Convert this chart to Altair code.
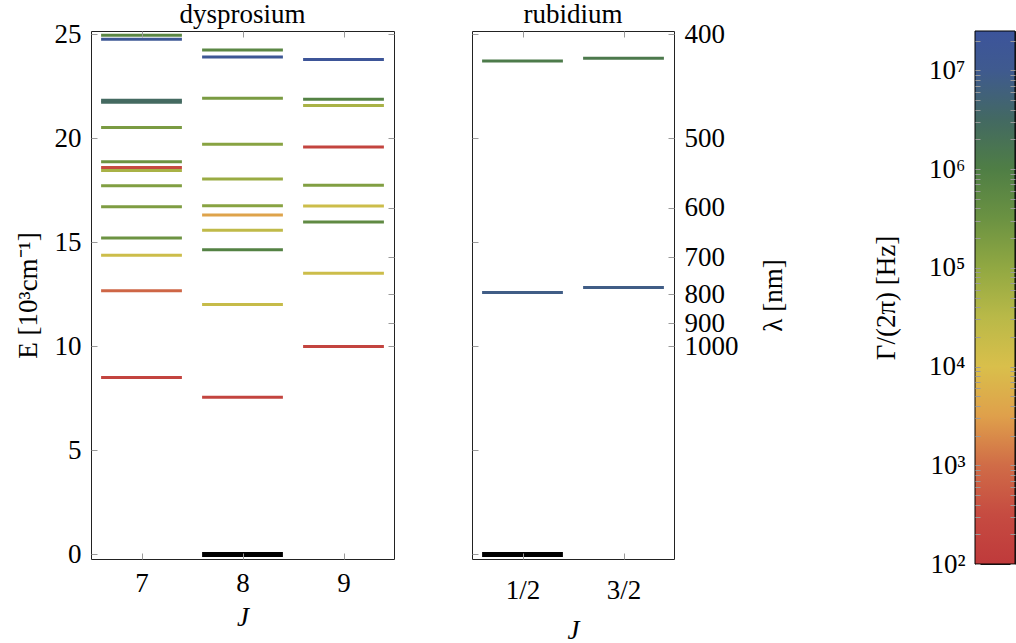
import math
import altair as alt
import pandas as pd

FONT = "Liberation Serif"
FS = 27

# ---------------- data ----------------
# dysprosium levels: J, energy [10^3 cm^-1], Gamma/(2pi) [Hz]
dy_J = [7, 7, 7, 7, 7, 7, 7, 7, 7, 7, 7, 7, 7, 7,
        8, 8, 8, 8, 8, 8, 8, 8, 8, 8, 8,
        9, 9, 9, 9, 9, 9, 9, 9, 9]
dy_E = [24.95, 24.76, 21.73, 21.83, 20.52, 18.87, 18.60, 18.46, 17.72, 16.71, 15.21, 14.38, 12.67, 8.51,
        24.25, 23.91, 21.93, 19.72, 18.04, 16.76, 16.31, 15.58, 14.64, 12.01, 7.55,
        23.79, 21.88, 21.58, 19.59, 17.75, 16.75, 15.98, 13.52, 10.00]
dy_G = [6e5, 1.6e7, 3e6, 3e6, 2e5, 3e5, 3e2, 5e4, 1.6e5, 1.8e5, 3e5, 1.6e4, 8e2, 2e2,
        6e5, 1.6e7, 2e5, 1.3e5, 8e4, 1.3e5, 3.5e3, 2.5e4, 8e5, 2e4, 2e2,
        2e7, 8e5, 5e4, 2e2, 1.6e5, 1.6e4, 5e5, 1.6e4, 2e2]

# rubidium levels
rb_J = [0.5, 1.5, 0.5, 1.5]
rb_E = [23.72, 23.85, 12.59, 12.83]
rb_G = [1.2e6, 1.3e6, 8e6, 8e6]

# ground states
dy_ground_J = [8]
dy_ground_E = [0.0]
rb_ground_J = [0.5]
rb_ground_E = [0.0]

# ticks
E_ticks = [0, 5, 10, 15, 20, 25]
dy_J_ticks = [7, 8, 9]
rb_J_ticks = [0.5, 1.5]
rb_J_labels = ["1/2", "3/2"]
lam_nm = [400, 500, 600, 700, 800, 900, 1000]
gamma_decades = [1e2, 1e3, 1e4, 1e5, 1e6, 1e7]
gamma_labels = ["10²", "10³", "10⁴", "10⁵", "10⁶", "10⁷"]
gamma_minor_mult = [2, 3, 4, 5, 6, 7, 8, 9]

# colormap (log10 Gamma -> colour)
cmap_log = [2.0, 2.5, 3.0, 3.5, 4.0, 4.5, 5.0, 5.5, 6.0, 6.5, 7.0, 7.4]
cmap_colors = ["#bf3a3b", "#c64b41", "#d06c47", "#dfa04b", "#d9bf4b", "#b9b948",
               "#91a842", "#6b9242", "#4f7e45", "#436962", "#3f5a8f", "#3c549b"]
G_MIN, G_MAX = 1e2, 2.5e7

E_DOMAIN = [-0.22, 25.16]
W_DY, W_RB, H = 303, 202, 528
W_CB, H_CB = 40, 533

# ---------------- helpers ----------------
cmap_domain = [10 ** v for v in cmap_log]
color_enc = alt.Color("G:Q", scale=alt.Scale(type="log", domain=cmap_domain, range=cmap_colors,
                                              interpolate="rgb"), legend=None)
E_scale = alt.Scale(domain=E_DOMAIN, nice=False, zero=False)
lam_E = [1e4 / l for l in lam_nm]


def inner_axis(**kw):
    base = dict(offset=-6, tickSize=6, tickColor="#9a9a9a", tickWidth=1, domain=False, grid=False,
                labelFont=FONT, labelFontSize=FS, titleFont=FONT, titleFontSize=FS,
                labelColor="black", titleColor="black", titleFontWeight="normal", zindex=1,
                labelOverlap=False)
    base.update(kw)
    return alt.Axis(**base)


def ptitle(text):
    return alt.TitleParams(text, font=FONT, fontSize=FS, fontWeight="normal", color="black",
                           offset=-9, anchor="middle", frame="group")


def level_panel(J, E, G, gJ, gE, xdom, xticks, xlabel_expr, right_labels, title, width):
    df = pd.DataFrame({"J": J, "E": E, "G": G})
    gdf = pd.DataFrame({"J": gJ, "E": gE})
    xs = alt.Scale(domain=xdom, nice=False, zero=False)
    bottom_kw = dict(orient="bottom", values=xticks, title="J", titleFontStyle="italic")
    if xlabel_expr:
        bottom_kw.update(labelExpr=xlabel_expr, labelPadding=18, titlePadding=14)
    else:
        bottom_kw.update(format="d", labelPadding=11, titlePadding=8)
    if right_labels:
        left_kw = dict(orient="left", values=E_ticks, labels=False, title=None)
        right_kw = dict(orient="right", values=lam_E, labelExpr="round(10000 / datum.value)",
                        labelPadding=10, title="λ [nm]", titleAngle=270, titleBaseline="top",
                        titlePadding=22)
    else:
        left_kw = dict(orient="left", values=E_ticks, title="E [10³cm⁻¹]", labelPadding=10,
                       titlePadding=12)
        right_kw = dict(orient="right", values=lam_E, labels=False, title=None)

    levels = alt.Chart(df).transform_calculate(
        J0="datum.J - 0.4", J1="datum.J + 0.4"
    ).mark_rule(strokeWidth=3, strokeCap="butt").encode(
        x=alt.X("J0:Q", scale=xs, axis=inner_axis(**bottom_kw)),
        x2="J1:Q",
        y=alt.Y("E:Q", scale=E_scale, axis=inner_axis(**left_kw)),
        color=color_enc,
    )
    ground = alt.Chart(gdf).transform_calculate(
        J0="datum.J - 0.4", J1="datum.J + 0.4"
    ).mark_rule(strokeWidth=5, strokeCap="butt", color="black").encode(
        x=alt.X("J0:Q", scale=xs, axis=inner_axis(orient="top", values=xticks, labels=False, title=None)),
        x2="J1:Q",
        y=alt.Y("E:Q", scale=E_scale, axis=inner_axis(**right_kw)),
    )
    return alt.layer(levels, ground).resolve_scale(x="independent", y="independent").properties(
        width=width, height=H, title=ptitle(title))


rb_label_expr = " : ".join(
    [f"datum.value == {v} ? '{l}'" for v, l in zip(rb_J_ticks[:-1], rb_J_labels[:-1])]
) + f" : '{rb_J_labels[-1]}'"

dy_chart = level_panel(dy_J, dy_E, dy_G, dy_ground_J, dy_ground_E, [6.5, 9.5], dy_J_ticks, None,
                       False, "dysprosium", W_DY)
rb_chart = level_panel(rb_J, rb_E, rb_G, rb_ground_J, rb_ground_E, [0.0, 2.0], rb_J_ticks,
                       rb_label_expr, True, "rubidium", W_RB)

# ---------------- colour bar ----------------
lo_log, hi_log = math.log10(G_MIN), math.log10(G_MAX)
stops = [alt.GradientStop(offset=min(1.0, (v - lo_log) / (hi_log - lo_log)), color=c)
         for v, c in zip(cmap_log, cmap_colors)]
grad = alt.LinearGradient(gradient="linear", stops=stops, x1=0, x2=0, y1=1, y2=0)

cb_values = []
for d in gamma_decades:
    cb_values.append(d)
    for m in gamma_minor_mult:
        if d * m <= G_MAX:
            cb_values.append(d * m)
cb_label_expr = " : ".join(
    [f"abs(datum.value - {d}) < {d * 1e-6} ? '{l}'" for d, l in zip(gamma_decades, gamma_labels)]
) + " : ''"

cb_df = pd.DataFrame({"lo": [G_MIN], "hi": [G_MAX], "x0": [0.0], "x1": [1.0]})
cb_scale = alt.Scale(type="log", domain=[G_MIN, G_MAX], nice=False)
cb_x = alt.Scale(domain=[0, 1], nice=False, zero=False)
cb_rect = alt.Chart(cb_df).mark_rect(fill=grad, stroke="black", strokeWidth=1).encode(
    y=alt.Y("lo:Q", scale=cb_scale,
            axis=inner_axis(orient="left", values=cb_values, labelExpr=cb_label_expr, offset=-5,
                            tickSize=5, labelPadding=10, title="Γ/(2π) [Hz]", titlePadding=28)),
    y2="hi:Q",
    x=alt.X("x0:Q", scale=cb_x, axis=None),
    x2="x1:Q",
)
cb_right = alt.Chart(cb_df).mark_rect(opacity=0).encode(
    y=alt.Y("lo:Q", scale=cb_scale,
            axis=inner_axis(orient="right", values=cb_values, labels=False, title=None, offset=-5,
                            tickSize=5)),
    y2="hi:Q",
    x=alt.X("x0:Q", scale=cb_x, axis=None),
    x2="x1:Q",
)
cb_chart = alt.layer(cb_rect, cb_right).resolve_scale(y="independent").properties(
    width=W_CB, height=H_CB, title=ptitle(" "))

left_pair = alt.hconcat(dy_chart, rb_chart, spacing=76)
chart = alt.hconcat(left_pair, cb_chart, spacing=85).properties(
    padding={"left": 13, "top": 0, "right": 0, "bottom": 0}
).configure_view(stroke="#222222", strokeWidth=1)

chart.save("out.html", embed_options={"renderer": "svg", "actions": False})
